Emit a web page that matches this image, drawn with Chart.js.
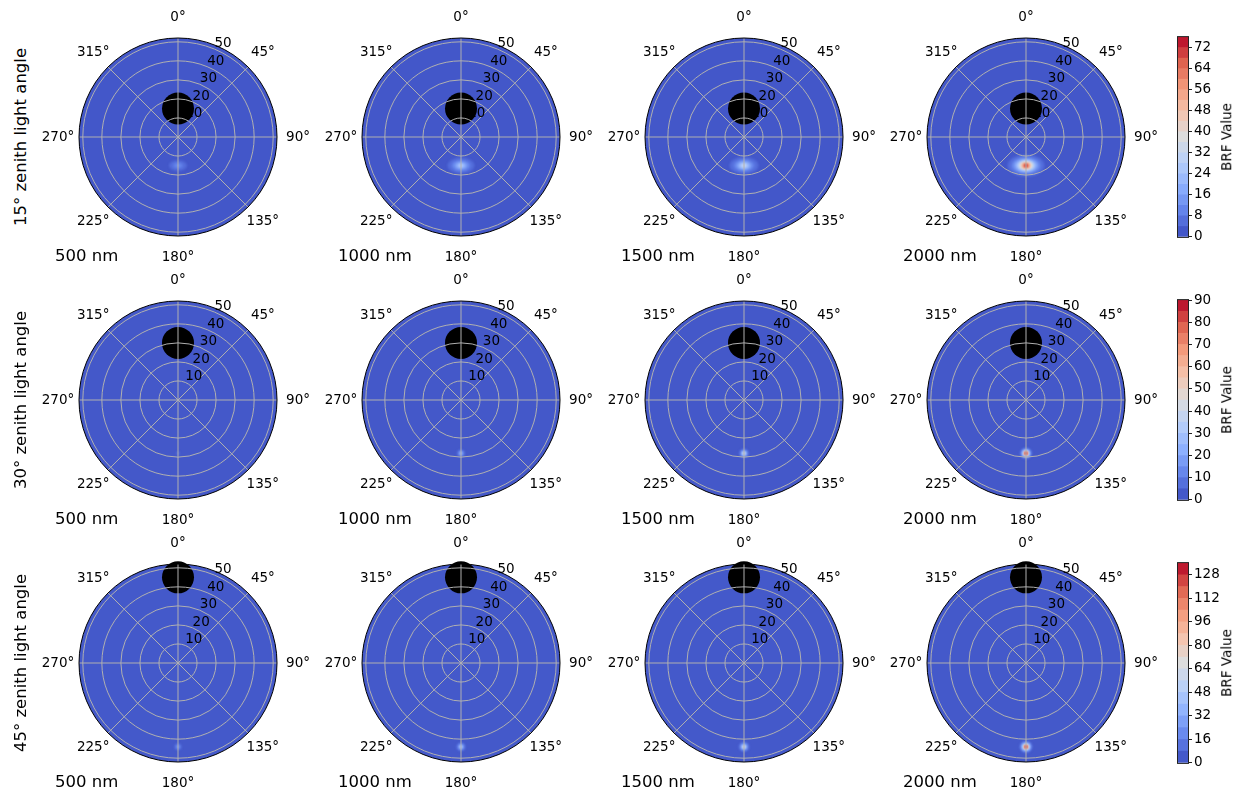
<!DOCTYPE html>
<html><head><meta charset="utf-8">
<script src="https://cdn.jsdelivr.net/npm/chart.js@4.4.1/dist/chart.umd.min.js"></script>
<style>
html,body{margin:0;padding:0;background:#fff;width:1250px;height:794px;overflow:hidden;position:relative;font-family:'DejaVu Sans',sans-serif;}
canvas{position:absolute;}
.lbl{position:absolute;white-space:nowrap;color:#000;line-height:1;}
</style></head><body>
<script>
// ---------------- data ----------------
const angleLabels = ['0°','45°','90°','135°','180°','225°','270°','315°'];
const radialTicks = [10, 20, 30, 40, 50];
const zenithMax = 52;
const wavelengths = ['500 nm', '1000 nm', '1500 nm', '2000 nm'];
const rowTitles = ['15° zenith light angle', '30° zenith light angle', '45° zenith light angle'];
const sunAzimuth = '0°';
const sunZenith = [15, 30, 45];
const hotspotAzimuth = '180°';
const hotspotZenith = [15, 28, 44];
const peakBRF_15 = [14, 30, 36, 76];
const peakBRF_30 = [10, 27, 45, 88];
const peakBRF_45 = [30, 50, 70, 134];
const levels_15 = [0,4,8,12,16,20,24,28,32,36,40,44,48,52,56,60,64,68,72,76];
const levels_30 = [0,5,10,15,20,25,30,35,40,45,50,55,60,65,70,75,80,85,90];
const levels_45 = [0,8,16,24,32,40,48,56,64,72,80,88,96,104,112,120,128,136];
const cbarTicks_15 = [0,8,16,24,32,40,48,56,64,72];
const cbarTicks_30 = [0,10,20,30,40,50,60,70,80,90];
const cbarTicks_45 = [0,16,32,48,64,80,96,112,128];
const cbarTitle = 'BRF Value';

const rows = [
  {peaks: peakBRF_15, levels: levels_15, ticks: cbarTicks_15, sun: sunZenith[0], hot: hotspotZenith[0], title: rowTitles[0]},
  {peaks: peakBRF_30, levels: levels_30, ticks: cbarTicks_30, sun: sunZenith[1], hot: hotspotZenith[1], title: rowTitles[1]},
  {peaks: peakBRF_45, levels: levels_45, ticks: cbarTicks_45, sun: sunZenith[2], hot: hotspotZenith[2], title: rowTitles[2]}
];

// ---------------- layout / style ----------------
const colX = [178, 461, 744, 1026];
const rowY = [137, 400, 663];
const spotSpread = [[7.5, 4.4], [2.6, 2.4], [2.8, 2.6]];
const spotShape = 1.2;
const FONT = 'DejaVu Sans';
Chart.defaults.font.family = FONT;

const CW = [[59,76,192],[98,130,234],[141,176,254],[184,208,249],[221,221,221],[245,196,173],[244,154,123],[222,96,77],[180,4,38]];
function coolwarm(t){
  t = Math.max(0, Math.min(1, t));
  const s = t * 8, i = Math.min(7, Math.floor(s)), f = s - i, a = CW[i], b = CW[i+1];
  return 'rgb(' + [0,1,2].map(j => Math.round(a[j] + (b[j]-a[j])*f)).join(',') + ')';
}
function bandColor(levels, k){ const n = levels.length - 1; return coolwarm((k + 0.5) / n); }

// marker image for a hot spot: nested filled contour bands up to the peak value
function hotspotImage(peak, levels, sx, sy){
  const n = levels.length - 1, rings = [];
  for (let k = 1; k < n; k++){
    const L = levels[k];
    if (L < peak) rings.push([k, Math.pow(Math.log(peak/L), 1/spotShape)]);
  }
  const dmax = rings.length ? rings[0][1] : 0.5;
  const W = 2*Math.ceil(sx*dmax + 4), H = 2*Math.ceil(sy*dmax + 4);
  const c = document.createElement('canvas'); c.width = W; c.height = H;
  const g = c.getContext('2d');
  g.filter = 'blur(0.9px)';
  rings.forEach(([k, d]) => {
    g.fillStyle = bandColor(levels, k);
    g.beginPath(); g.ellipse(W/2, H/2, Math.max(1, sx*d), Math.max(1, sy*d), 0, 0, 2*Math.PI); g.fill();
  });
  return c;
}

const diskPlugin = {
  id: 'disk',
  beforeDraw(chart, args, opts){
    const s = chart.scales.r, ctx = chart.ctx;
    ctx.save(); ctx.fillStyle = opts.base;
    ctx.beginPath(); ctx.arc(s.xCenter, s.yCenter, s.drawingArea, 0, 2*Math.PI); ctx.fill();
    ctx.restore();
  },
  afterDraw(chart){
    const s = chart.scales.r, ctx = chart.ctx;
    ctx.save();
    ctx.strokeStyle = '#000'; ctx.lineWidth = 1;
    ctx.beginPath(); ctx.arc(s.xCenter, s.yCenter, s.drawingArea, 0, 2*Math.PI); ctx.stroke();
    ctx.fillStyle = '#000';
    ctx.font = '13.5px "' + FONT + '"';
    ctx.textAlign = 'center'; ctx.textBaseline = 'middle';
    angleLabels.forEach((lab, i) => {
      const p = s.getPointPosition(i, s.drawingArea + 21);
      ctx.fillText(lab, p.x, p.y);
    });
    ctx.textAlign = 'left'; ctx.textBaseline = 'alphabetic';
    radialTicks.forEach(v => {
      const p = s.getPointPosition(0, s.getDistanceFromCenterForValue(v), Math.PI/8);
      ctx.fillText(String(v), p.x, p.y - 2);
    });
    ctx.restore();
  }
};

function polar(ri, ci){
  const row = rows[ri], cx = colX[ci], cy = rowY[ri];
  const cv = document.createElement('canvas');
  cv.width = 280; cv.height = 280;
  cv.style.left = (cx - 140) + 'px'; cv.style.top = (cy - 140) + 'px';
  document.body.appendChild(cv);
  new Chart(cv, {
    type: 'radar',
    data: { labels: angleLabels, datasets: [
      { label: 'sun', data: angleLabels.map(a => a === sunAzimuth ? row.sun : null),
        pointRadius: 16, pointBackgroundColor: '#000', pointBorderWidth: 0, pointBorderColor: 'transparent',
        showLine: false, borderWidth: 0, borderColor: 'transparent', backgroundColor: 'transparent', fill: false },
      { label: 'hotspot', data: angleLabels.map(a => a === hotspotAzimuth ? row.hot : null),
        pointStyle: hotspotImage(row.peaks[ci], row.levels, spotSpread[ri][0], spotSpread[ri][1]),
        pointRadius: 3, pointBorderWidth: 0, pointBorderColor: 'transparent',
        showLine: false, borderWidth: 0, borderColor: 'transparent', backgroundColor: 'transparent', fill: false }
    ]},
    options: {
      responsive: false, animation: false, events: [],
      layout: { padding: 41 },
      plugins: { colors: {enabled: false}, legend: {display: false}, tooltip: {enabled: false}, disk: { base: bandColor(row.levels, 0) } },
      scales: { r: {
        min: 0, max: zenithMax, startAngle: 0,
        afterBuildTicks: s => { s.ticks = [0, ...radialTicks].map(v => ({value: v})); },
        ticks: { display: false },
        grid: { circular: true, color: '#b0b0b0', lineWidth: 1, z: 1 },
        angleLines: { color: '#b0b0b0', lineWidth: 1 },
        pointLabels: { display: false }
      } }
    },
    plugins: [diskPlugin]
  });
}

const outlinePlugin = {
  id: 'outline',
  afterDraw(chart){
    const a = chart.chartArea, ctx = chart.ctx;
    ctx.save(); ctx.strokeStyle = '#222'; ctx.lineWidth = 1;
    ctx.strokeRect(a.left - 0.5, a.top - 0.5, a.right - a.left + 1, a.bottom - a.top + 1);
    ctx.restore();
  }
};

function colorbar(ri){
  const row = rows[ri], cy = rowY[ri];
  const cv = document.createElement('canvas');
  cv.width = 82; cv.height = 220;
  cv.style.left = '1168px'; cv.style.top = (cy - 110) + 'px';
  document.body.appendChild(cv);
  const n = row.levels.length - 1, datasets = [];
  for (let k = 0; k < n; k++) datasets.push({
    data: [[row.levels[k], row.levels[k+1]]], backgroundColor: bandColor(row.levels, k),
    borderWidth: 0, grouped: false, barPercentage: 1, categoryPercentage: 1
  });
  new Chart(cv, {
    type: 'bar',
    data: { labels: [cbarTitle], datasets },
    options: {
      responsive: false, animation: false, events: [],
      layout: { padding: { left: 10, right: 0, top: 10, bottom: 10 } },
      plugins: { colors: {enabled: false}, legend: {display: false}, tooltip: {enabled: false} },
      scales: {
        x: { display: false },
        y: { position: 'right', min: 0, max: row.levels[n],
          afterBuildTicks: s => { s.ticks = row.ticks.map(v => ({value: v})); },
          afterFit: s => { s.width = 62; },
          ticks: { color: '#000', font: { size: 13.5 }, padding: 2 },
          grid: { drawOnChartArea: false, drawTicks: true, tickLength: 4, color: '#222', lineWidth: 1 },
          border: { display: false } }
      }
    },
    plugins: [outlinePlugin]
  });
}

function addText(str, x, y, size, css){
  const d = document.createElement('div');
  d.className = 'lbl'; d.textContent = str;
  d.style.left = x + 'px'; d.style.top = y + 'px'; d.style.fontSize = size + 'px';
  d.style.transform = css;
  document.body.appendChild(d);
}

for (let ri = 0; ri < 3; ri++){
  for (let ci = 0; ci < 4; ci++){
    polar(ri, ci);
    addText(wavelengths[ci], colX[ci] - 123, rowY[ri] + 119, 16.5, 'translateY(-50%)');
  }
  colorbar(ri);
  addText(rows[ri].title, 21, rowY[ri], 16.5, 'translate(-50%,-50%) rotate(-90deg)');
  addText(cbarTitle, 1227, rowY[ri], 13.5, 'translate(-50%,-50%) rotate(-90deg)');
}
</script></body></html>
